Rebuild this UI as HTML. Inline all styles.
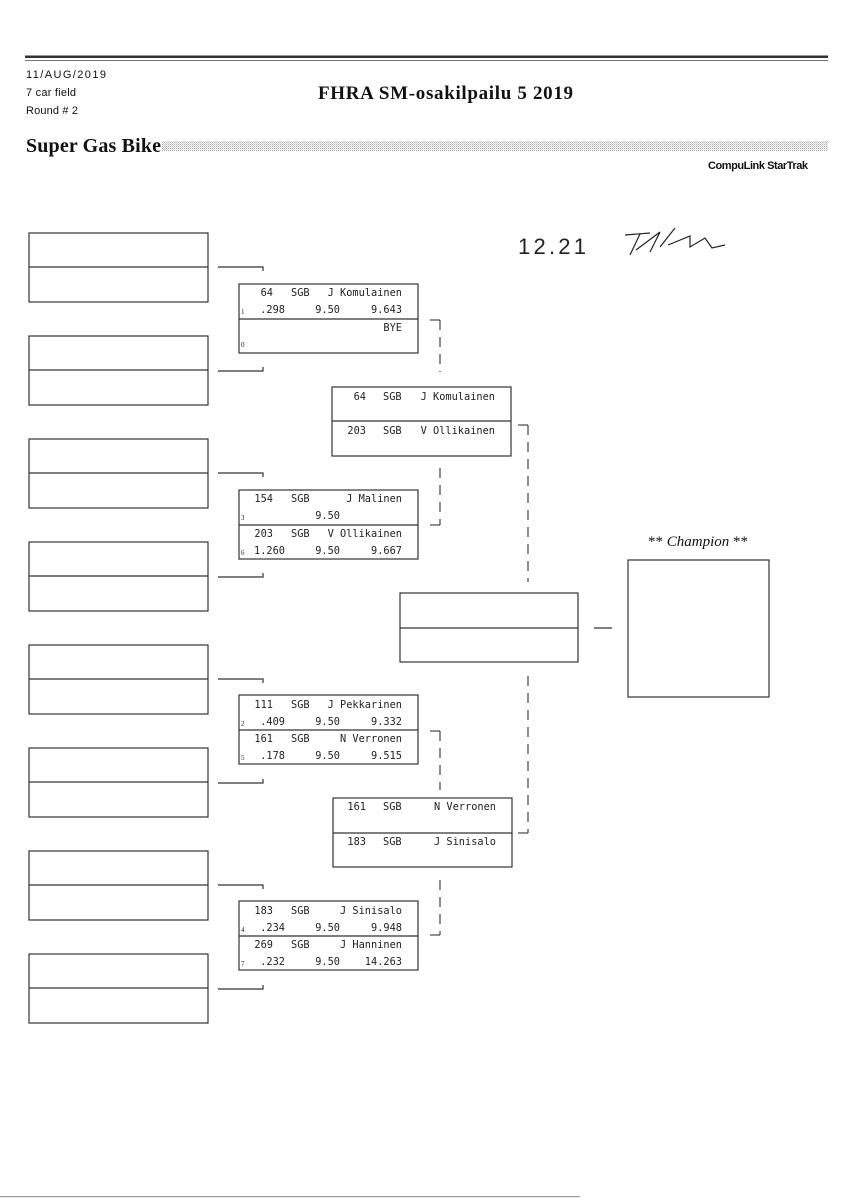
<!DOCTYPE html>
<html><head><meta charset="utf-8"><style>
body{margin:0;background:#fff;}
svg{display:block}
.m{font-family:"DejaVu Sans Mono","Liberation Mono",monospace;font-size:10.3px;fill:#222}
.s{font-family:"Liberation Serif",serif;font-size:7px;fill:#222}
.h{font-family:"Liberation Sans",sans-serif;font-size:10.5px;fill:#111;transform-box:fill-box}
</style></head><body>
<svg width="848" height="1200" viewBox="0 0 848 1200" xmlns="http://www.w3.org/2000/svg">
<defs><pattern id="dots" width="2" height="2" patternUnits="userSpaceOnUse"><rect width="1" height="1" fill="#888"/><rect x="1" y="1" width="1" height="1" fill="#bbb"/></pattern></defs>
<rect x="25" y="55.5" width="803" height="2.5" fill="#333"/>
<rect x="25" y="60" width="803" height="1" fill="#777"/>
<text x="26" y="78" font-family="Liberation Sans Narrow,Liberation Sans,sans-serif" font-size="11" fill="#111" textLength="80">11/AUG/2019</text>
<text x="26" y="96" font-family="Liberation Sans Narrow,Liberation Sans,sans-serif" font-size="11" fill="#111" textLength="50">7 car field</text>
<text x="26" y="114" font-family="Liberation Sans Narrow,Liberation Sans,sans-serif" font-size="11" fill="#111" textLength="52">Round # 2</text>
<text x="318" y="99" font-family="Liberation Serif,serif" font-weight="bold" font-size="19" fill="#111" textLength="255">FHRA SM-osakilpailu 5  2019</text>
<text x="26" y="152" font-family="Liberation Serif,serif" font-weight="bold" font-size="20" fill="#111" textLength="135">Super Gas Bike</text>
<rect x="162" y="141" width="666" height="10" fill="url(#dots)" opacity="0.7"/>
<text x="808" y="169" text-anchor="end" font-family="Liberation Sans Narrow,Liberation Sans,sans-serif" font-weight="bold" font-size="11" fill="#111" textLength="100">CompuLink StarTrak</text>
<text x="518" y="254" font-family="Liberation Sans,sans-serif" font-size="22" fill="#222" textLength="68">12.21</text>
<path d="M625 235 L650 233 M640 234 L630 255 M636 250 L660 232 L650 252 M660 247 L675 228 M668 245 L690 236 L690 247 L705 238 L712 248 L725 245" stroke="#222" stroke-width="1.2" fill="none"/>
<g fill="none" stroke="#333" stroke-width="1.2">
<!-- left boxes -->
<rect x="29" y="233" width="179" height="69"/><line x1="29" y1="267" x2="208" y2="267"/>
<rect x="29" y="336" width="179" height="69"/><line x1="29" y1="370" x2="208" y2="370"/>
<rect x="29" y="439" width="179" height="69"/><line x1="29" y1="473" x2="208" y2="473"/>
<rect x="29" y="542" width="179" height="69"/><line x1="29" y1="576" x2="208" y2="576"/>
<rect x="29" y="645" width="179" height="69"/><line x1="29" y1="679" x2="208" y2="679"/>
<rect x="29" y="748" width="179" height="69"/><line x1="29" y1="782" x2="208" y2="782"/>
<rect x="29" y="851" width="179" height="69"/><line x1="29" y1="885" x2="208" y2="885"/>
<rect x="29" y="954" width="179" height="69"/><line x1="29" y1="988" x2="208" y2="988"/>
<!-- connectors left -->
<path d="M218 267H263V271 M218 371H263V367 M218 473H263V477 M218 577H263V573 M218 679H263V683 M218 783H263V779 M218 885H263V889 M218 989H263V985"/>
<!-- round 2 boxes -->
<rect x="239" y="284" width="179" height="69"/><line x1="239" y1="319" x2="418" y2="319"/>
<rect x="239" y="490" width="179" height="69"/><line x1="239" y1="525" x2="418" y2="525"/>
<rect x="239" y="695" width="179" height="69"/><line x1="239" y1="730" x2="418" y2="730"/>
<rect x="239" y="901" width="179" height="69"/><line x1="239" y1="936" x2="418" y2="936"/>
<!-- round 3 -->
<rect x="332" y="387" width="179" height="69"/><line x1="332" y1="421" x2="511" y2="421"/>
<rect x="333" y="798" width="179" height="69"/><line x1="333" y1="833" x2="512" y2="833"/>
<!-- final -->
<rect x="400" y="593" width="178" height="69"/><line x1="400" y1="628" x2="578" y2="628"/>
<rect x="628" y="560" width="141" height="137"/>
<line x1="594" y1="628" x2="612" y2="628"/>
</g>
<g fill="none" stroke="#333" stroke-width="1.1">
<path d="M430 320H440"/><path d="M440 320V372" stroke-dasharray="10 7"/>
<path d="M440 468V525" stroke-dasharray="10 7"/><path d="M430 525H440"/>
<path d="M518 425H528"/><path d="M528 425V582" stroke-dasharray="10 7"/>
<path d="M528 676V833" stroke-dasharray="10 7"/><path d="M518 833H528"/>
<path d="M430 731H440"/><path d="M440 731V790" stroke-dasharray="10 7"/>
<path d="M440 880V935" stroke-dasharray="10 7"/><path d="M430 935H440"/>
</g>
<rect x="0" y="1196" width="580" height="1.2" fill="#999"/>
<text x="698" y="546" text-anchor="middle" font-family="Liberation Serif,serif" font-size="15" fill="#111">** <tspan font-style="italic">Champion</tspan> **</text>
<!-- round 2 texts -->
<g class="m">
<text x="273" y="296" text-anchor="end">64</text><text x="291" y="296">SGB</text><text x="402" y="296" text-anchor="end">J Komulainen</text>
<text x="285" y="313" text-anchor="end">.298</text><text x="340" y="313" text-anchor="end">9.50</text><text x="402" y="313" text-anchor="end">9.643</text>
<text x="402" y="331" text-anchor="end">BYE</text>

<text x="273" y="502" text-anchor="end">154</text><text x="291" y="502">SGB</text><text x="402" y="502" text-anchor="end">J Malinen</text>
<text x="340" y="519" text-anchor="end">9.50</text>
<text x="273" y="537" text-anchor="end">203</text><text x="291" y="537">SGB</text><text x="402" y="537" text-anchor="end">V Ollikainen</text>
<text x="285" y="554" text-anchor="end">1.260</text><text x="340" y="554" text-anchor="end">9.50</text><text x="402" y="554" text-anchor="end">9.667</text>

<text x="273" y="708" text-anchor="end">111</text><text x="291" y="708">SGB</text><text x="402" y="708" text-anchor="end">J Pekkarinen</text>
<text x="285" y="725" text-anchor="end">.409</text><text x="340" y="725" text-anchor="end">9.50</text><text x="402" y="725" text-anchor="end">9.332</text>
<text x="273" y="742" text-anchor="end">161</text><text x="291" y="742">SGB</text><text x="402" y="742" text-anchor="end">N Verronen</text>
<text x="285" y="759" text-anchor="end">.178</text><text x="340" y="759" text-anchor="end">9.50</text><text x="402" y="759" text-anchor="end">9.515</text>

<text x="273" y="914" text-anchor="end">183</text><text x="291" y="914">SGB</text><text x="402" y="914" text-anchor="end">J Sinisalo</text>
<text x="285" y="931" text-anchor="end">.234</text><text x="340" y="931" text-anchor="end">9.50</text><text x="402" y="931" text-anchor="end">9.948</text>
<text x="273" y="948" text-anchor="end">269</text><text x="291" y="948">SGB</text><text x="402" y="948" text-anchor="end">J Hanninen</text>
<text x="285" y="965" text-anchor="end">.232</text><text x="340" y="965" text-anchor="end">9.50</text><text x="402" y="965" text-anchor="end">14.263</text>

<text x="366" y="400" text-anchor="end">64</text><text x="383" y="400">SGB</text><text x="495" y="400" text-anchor="end">J Komulainen</text>
<text x="366" y="434" text-anchor="end">203</text><text x="383" y="434">SGB</text><text x="495" y="434" text-anchor="end">V Ollikainen</text>
<text x="366" y="810" text-anchor="end">161</text><text x="383" y="810">SGB</text><text x="496" y="810" text-anchor="end">N Verronen</text>
<text x="366" y="845" text-anchor="end">183</text><text x="383" y="845">SGB</text><text x="496" y="845" text-anchor="end">J Sinisalo</text>
</g>
<g class="s">
<text x="241" y="314">1</text><text x="241" y="347">0</text>
<text x="241" y="520">3</text><text x="241" y="555">6</text>
<text x="241" y="726">2</text><text x="241" y="760">5</text>
<text x="241" y="932">4</text><text x="241" y="966">7</text>
</g>
</svg>
</body></html>
